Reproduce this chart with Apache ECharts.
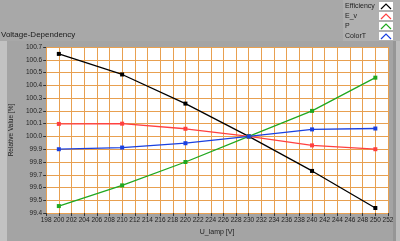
<!DOCTYPE html>
<html><head><meta charset="utf-8">
<script src="https://cdn.jsdelivr.net/npm/echarts@6/dist/echarts.min.js"></script>
<style>html,body{margin:0;padding:0;background:#a8a8a8;}#c{width:400px;height:241px;}</style>
</head><body><div id="c"></div>
<script>
var voltages = [200, 210, 220, 230, 240, 250];
var efficiency = [100.646, 100.485, 100.257, 100.0, 99.73, 99.44];
var ev = [100.098, 100.1, 100.06, 100.0, 99.93, 99.90];
var power = [99.455, 99.617, 99.80, 100.0, 100.20, 100.46];
var colorT = [99.90, 99.913, 99.947, 100.0, 100.055, 100.062];
var seriesNames = ['Efficiency', 'E_v', 'P', 'ColorT'];
var seriesColors = ['#000000', '#ff4040', '#20a820', '#1a40e0'];
var seriesData = [efficiency, ev, power, colorT];

var chart = echarts.init(document.getElementById('c'), null, {renderer: 'canvas'});
var font = 'Liberation Sans';
var series = seriesData.map(function (vals, i) {
  return {
    name: seriesNames[i], type: 'line',
    data: voltages.map(function (v, j) { return [v, vals[j]]; }),
    symbol: 'rect', symbolSize: 4, showSymbol: true,
    lineStyle: {color: seriesColors[i], width: 1.3},
    itemStyle: {color: seriesColors[i]},
    animation: false, z: 3
  };
});

var legendGraphics = [];
seriesNames.forEach(function (n, i) {
  var y = 2 + i * 10;
  legendGraphics.push({type: 'text', left: 345, top: y + 0.5, style: {text: n, font: '7px ' + font, fill: '#222'}});
  legendGraphics.push({type: 'rect', shape: {x: 379, y: y, width: 14, height: 8}, style: {fill: '#ffffff'}});
  legendGraphics.push({type: 'polyline', shape: {points: [[381, y + 7], [386, y + 2], [391, y + 7]]}, style: {stroke: seriesColors[i], lineWidth: 1.2, fill: null}});
});

chart.setOption({
  backgroundColor: '#a8a8a8',
  animation: false,
  title: {text: 'Voltage-Dependency', left: 1, top: 31, padding: 0, textStyle: {fontFamily: font, fontSize: 8, fontWeight: 'normal', color: '#1a1a1a'}},
  graphic: [
    {type: 'rect', shape: {x: 0, y: 41, width: 400, height: 200}, style: {fill: '#a4a4a4'}, z: -10},
    {type: 'rect', shape: {x: 0, y: 41, width: 7, height: 200}, style: {fill: '#c2c2c2'}, z: -9},
    {type: 'rect', shape: {x: 393, y: 41, width: 3, height: 200}, style: {fill: '#969696'}, z: -9},
    {type: 'rect', shape: {x: 396, y: 41, width: 4, height: 200}, style: {fill: '#bdbdbd'}, z: -9},
    {type: 'rect', shape: {x: 343, y: 0, width: 57, height: 41}, style: {fill: '#b0b0b0'}, z: -9}
  ].concat(legendGraphics),
  grid: {left: 38, right: 12, top: 47, bottom: 21, show: true, backgroundColor: '#ffffff', borderWidth: 0},
  xAxis: {
    type: 'value', min: 198, max: 252, interval: 2,
    name: 'U_lamp [V]', nameLocation: 'middle', nameGap: 14,
    nameTextStyle: {fontFamily: font, fontSize: 7, color: '#222'},
    axisLine: {show: false},
    axisTick: {show: true, length: 3, lineStyle: {color: '#333'}},
    axisLabel: {fontFamily: font, fontSize: 6.5, color: '#222', margin: 4},
    splitLine: {show: true, lineStyle: {color: '#e8a050', width: 1}}
  },
  yAxis: {
    type: 'value', min: 99.4, max: 100.7, interval: 0.1,
    name: 'Relative Value [%]', nameLocation: 'middle', nameGap: 21, nameRotate: 90,
    nameTextStyle: {fontFamily: font, fontSize: 6.5, color: '#222'},
    axisLine: {show: false},
    axisTick: {show: true, length: 3, lineStyle: {color: '#333'}},
    axisLabel: {fontFamily: font, fontSize: 6.5, color: '#222', margin: 4, formatter: function (v) { return v.toFixed(1); }},
    splitLine: {show: true, lineStyle: {color: '#e8a050', width: 1}}
  },
  series: series
});
</script></body></html>
